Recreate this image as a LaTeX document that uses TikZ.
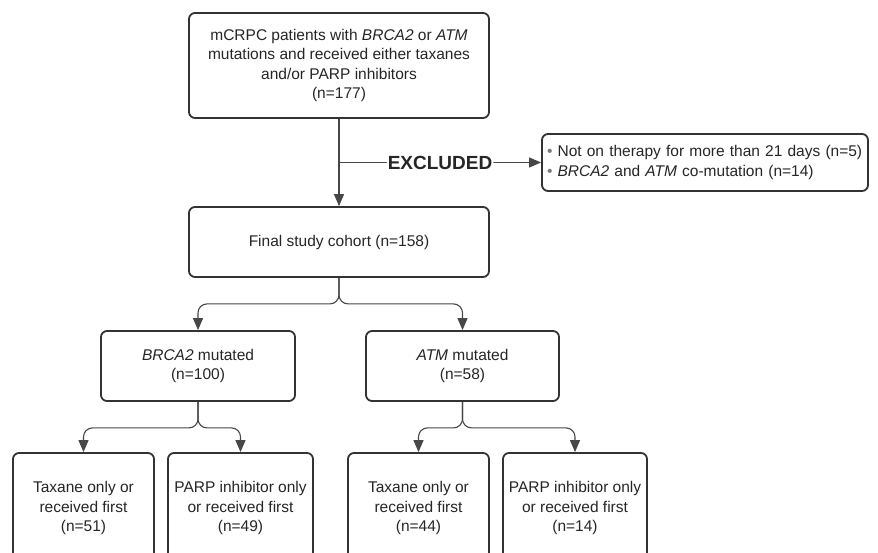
\documentclass[tikz,border=0pt]{standalone}
\usepackage{fontspec}
\setmainfont{Liberation Sans}
\usetikzlibrary{arrows.meta}
\definecolor{txt}{HTML}{262626}
\definecolor{edge}{HTML}{333333}
\definecolor{conn}{HTML}{474747}
\definecolor{bul}{HTML}{7A7A7A}
\begin{document}
\begin{tikzpicture}[x=1pt,y=-1pt,
  box/.style={draw=edge, line width=1.8pt, rounded corners=6pt, align=center, text=txt,
    font=\fontsize{15.5}{19.3}\selectfont, inner sep=0pt},
  conn/.style={draw=conn, line width=1.1pt, -{Triangle[length=12pt,width=10pt]}, rounded corners=9pt},
  bt/.style={box, minimum height=110pt}]
\useasboundingbox (0,0) rectangle (878,553);
\clip (0,0) rectangle (878,553);
\fill[white] (0,0) rectangle (878,553);
\node[box, minimum width=300pt, minimum height=105pt] (top) at (339,65.5)
  {mCRPC patients with \textit{BRCA2} or \textit{ATM}\\mutations and received either taxanes\\and/or PARP inhibitors\\(n=177)};
\node[box, minimum width=300pt, minimum height=70pt] (final) at (339,242) {Final study cohort (n=158)};
\node[box, minimum width=326pt, minimum height=57pt, text width=316pt, align=left, inner xsep=5pt] (excl) at (705,162.5)
  {{\color{bul}\textbullet} Not on therapy for more than 21 days (n=5)\\{\color{bul}\textbullet} \textit{BRCA2} and \textit{ATM} co-mutation (n=14)};
\node[box, minimum width=194pt, minimum height=70pt] (brca) at (198,366) {\textit{BRCA2} mutated\\(n=100)};
\node[box, minimum width=193pt, minimum height=70pt] (atm) at (462.5,366) {\textit{ATM} mutated\\(n=58)};
\node[bt, minimum width=141pt] (b1) at (83.5,508) {Taxane only or\\received first\\(n=51)};
\node[bt, minimum width=145pt] (b2) at (240.5,508) {PARP inhibitor only\\or received first\\(n=49)};
\node[bt, minimum width=141pt] (b3) at (418.5,508) {Taxane only or\\received first\\(n=44)};
\node[bt, minimum width=144pt] (b4) at (575,508) {PARP inhibitor only\\or received first\\(n=14)};
\coordinate (j) at (top.south |- excl.west);
\draw[conn] (top.south) -- (final.north);
\draw[conn] (j) -- node[fill=white, text=txt, inner xsep=1pt, inner ysep=2pt, font=\bfseries\fontsize{19}{21}\selectfont] (exlabel) {EXCLUDED} (excl.west);
\draw[conn] (final.south) -- ++(0,26) -| (brca.north);
\draw[conn] (final.south) -- ++(0,26) -| (atm.north);
\draw[conn] (brca.south) -- ++(0,26) -| (b1.north);
\draw[conn] (brca.south) -- ++(0,26) -| (b2.north);
\draw[conn] (atm.south) -- ++(0,26) -| (b3.north);
\draw[conn] (atm.south) -- ++(0,26) -| (b4.north);
\end{tikzpicture}
\end{document}
